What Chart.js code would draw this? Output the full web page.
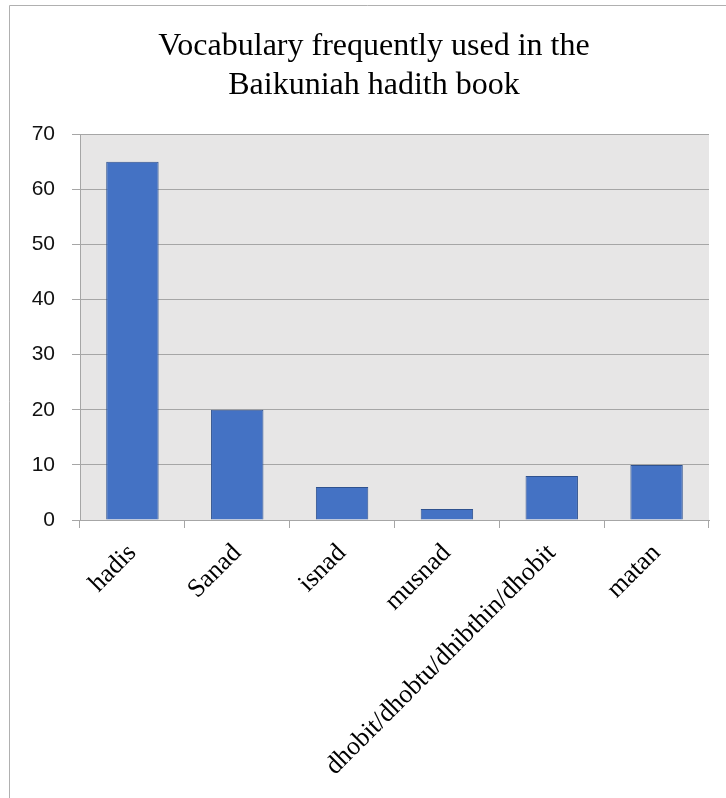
<!DOCTYPE html>
<html>
<head>
<meta charset="utf-8">
<script src="https://cdn.jsdelivr.net/npm/chart.js@4/dist/chart.umd.min.js"></script>
<style>
  html, body { margin: 0; padding: 0; background: #fff; }
  #wrap { width: 726px; height: 798px; }
</style>
</head>
<body>
<div id="wrap"><canvas id="chart" width="726" height="798"></canvas></div>
<script>
// データ
const titleLines = ['Vocabulary frequently used in the', 'Baikuniah hadith book'];
const categories = ['hadis', 'Sanad', 'isnad', 'musnad', 'dhobit/dhobtu/dhibthin/dhobit', 'matan'];
const counts = [65, 20, 6, 2, 8, 10];
const yTicks = [0, 10, 20, 30, 40, 50, 60, 70];

// 枠と背景
const framePlugin = {
    id: 'frame',
    beforeDraw(chart) {
        const ctx = chart.ctx;
        const a = chart.chartArea;
        ctx.save();
        ctx.fillStyle = '#fff';
        ctx.fillRect(0, 0, chart.width, chart.height);
        ctx.strokeStyle = '#b0b0b0';
        ctx.lineWidth = 1;
        ctx.beginPath();
        ctx.moveTo(9.5, chart.height);
        ctx.lineTo(9.5, 5.5);
        ctx.lineTo(chart.width, 5.5);
        ctx.stroke();
        ctx.fillStyle = '#e7e6e6';
        ctx.fillRect(a.left, a.top, a.right - a.left, a.bottom - a.top);
        ctx.restore();
    }
};

const ctx = document.getElementById('chart').getContext('2d');
const myChart = new Chart(ctx, {
    type: 'bar',
    data: {
        labels: categories,
        datasets: [{
            data: counts,
            backgroundColor: '#4472c4',
            borderColor: '#2f528f',
            borderWidth: 1,
            barPercentage: 0.5,
            categoryPercentage: 1
        }]
    },
    options: {
        responsive: false,
        animation: false,
        layout: { padding: { left: 22, right: 0, top: 0, bottom: 0 } },
        plugins: {
            legend: { display: false },
            tooltip: { enabled: false },
            title: {
                display: true,
                text: titleLines,
                color: '#000',
                font: { family: '"Liberation Serif", "DejaVu Serif", serif', size: 32, weight: 'normal', lineHeight: 1.19 },
                padding: { top: 28, bottom: 30 }
            }
        },
        scales: {
            x: {
                offset: true,
                grid: { drawOnChartArea: false, drawTicks: true, tickLength: 8, color: '#a6a6a6', offset: true },
                border: { color: '#a6a6a6' },
                ticks: {
                    color: '#000',
                    maxRotation: 45,
                    minRotation: 45,
                    autoSkip: false,
                    padding: 10,
                    font: { family: '"Liberation Serif", "DejaVu Serif", serif', size: 26 }
                },
                afterFit(scale) { scale.height = 278; }
            },
            y: {
                min: 0,
                max: 70,
                afterBuildTicks(scale) { scale.ticks = yTicks.map(v => ({ value: v })); },
                grid: { color: '#a6a6a6', tickLength: 8 },
                border: { color: '#a6a6a6' },
                ticks: {
                    color: '#111',
                    padding: 17,
                    font: { family: '"Liberation Sans", Arial, sans-serif', size: 21 }
                },
                afterFit(scale) { scale.width = 58; }
            },
            // 右側の余白用（表示なし）
            yRight: {
                position: 'right',
                grid: { display: false },
                border: { display: false },
                ticks: { display: false },
                afterFit(scale) { scale.width = 17; }
            }
        }
    },
    plugins: [framePlugin]
});
</script>
</body>
</html>
